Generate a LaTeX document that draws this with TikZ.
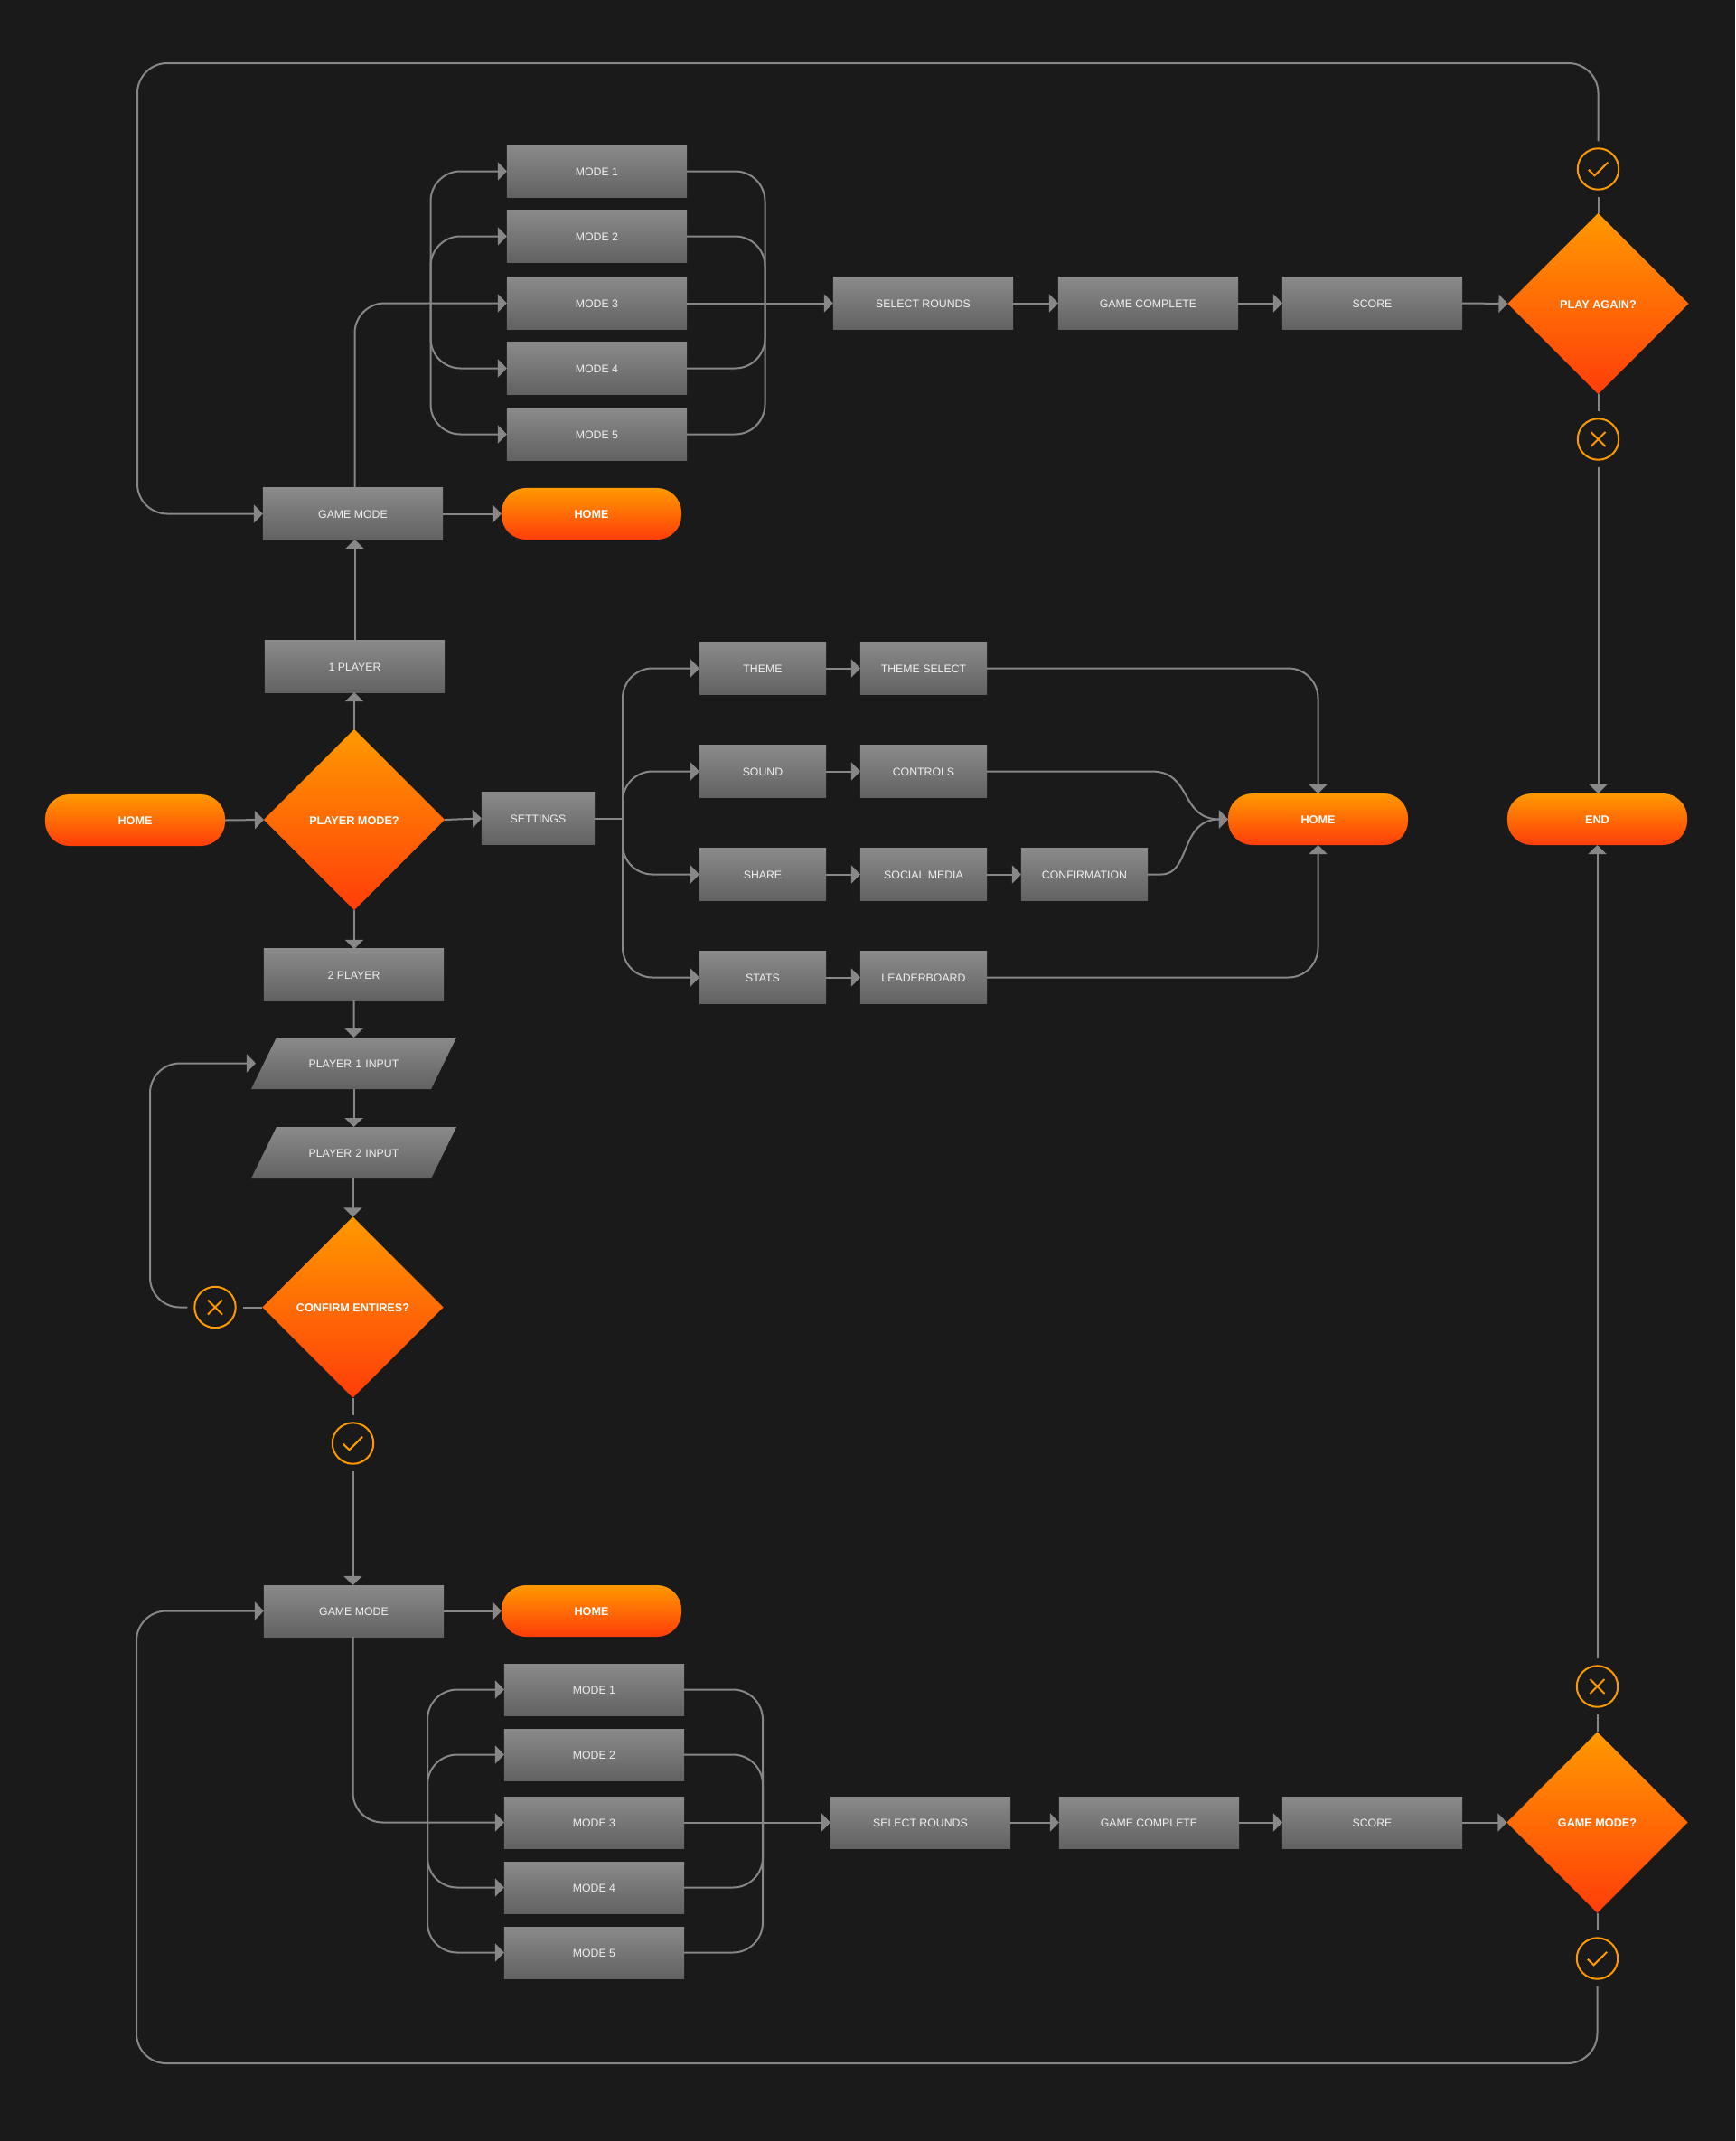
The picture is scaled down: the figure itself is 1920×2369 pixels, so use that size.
\documentclass[tikz,border=0pt]{standalone}
\usepackage{fontspec}
\setmainfont{Liberation Sans}
\usepackage{tikz}
\usetikzlibrary{arrows.meta,shapes.geometric}
\definecolor{bgdark}{HTML}{1A1A1A}
\definecolor{linegray}{HTML}{878787}
\definecolor{boxtop}{HTML}{8A8A8A}
\definecolor{boxbot}{HTML}{626262}
\definecolor{hottop}{HTML}{FF9900}
\definecolor{hotbot}{HTML}{FF3D0A}
\definecolor{boxtext}{HTML}{F0F0F0}

\begin{document}
\begin{tikzpicture}[
  x=0.01cm,y=-0.01cm,
  boxnode/.style={rectangle, top color=boxtop, bottom color=boxbot, text=boxtext, minimum width=1.99cm, minimum height=0.57cm, inner sep=0pt, outer sep=0pt, text height=3.1pt, text depth=0pt, font=\fontsize{3.5}{4}\selectfont},
  boxshort/.style={boxnode, minimum width=1.4cm},
  slant/.style={boxnode, trapezium, trapezium left angle=63.8, trapezium right angle=116.2, minimum width=0pt, minimum height=0pt, text width=1.71cm, align=center, text height=9.5pt, text depth=6.7pt},
  pill/.style={rectangle, rounded corners=0.27cm, top color=hottop, bottom color=hotbot, text=white, minimum width=1.99cm, minimum height=0.57cm, inner sep=0pt, outer sep=0pt, text height=3.1pt, text depth=0pt, font=\fontsize{3.6}{4}\selectfont\bfseries},
  decide/.style={diamond, aspect=1, top color=hottop, bottom color=hotbot, text=white, minimum width=2cm, minimum height=2cm, inner sep=0pt, outer sep=0pt, text height=3.1pt, text depth=0pt, font=\fontsize{3.6}{4}\selectfont\bfseries},
  ringnode/.style={circle, draw=hottop, line width=0.02cm, minimum size=0.454cm, inner sep=0pt, outer sep=0.08cm},
  yesmark/.style={ringnode, path picture={\draw[hottop, line width=0.02cm, shift={(path picture bounding box.center)}] (-10.7,0.7) -- (-4,7.3) -- (10.7,-7.3);}},
  nomark/.style={ringnode, path picture={\draw[hottop, line width=0.02cm, shift={(path picture bounding box.center)}] (-8,-8) -- (8,8) (-8,8) -- (8,-8);}},
  wire/.style={draw=linegray, line width=0.02cm, rounded corners=0.33cm},
  arr/.style={wire, -{Triangle[length=0.1cm, width=0.2cm]}, linegray}
]
\fill[bgdark] (0,0) rectangle (1920,2369);

\node[boxnode] (ma1) at (660.5,189.5) {MODE 1};
\node[boxnode] (ma2) at (660.5,261.5) {MODE 2};
\node[boxnode] (ma3) at (660.5,335.5) {MODE 3};
\node[boxnode] (ma4) at (660.5,407.5) {MODE 4};
\node[boxnode] (ma5) at (660.5,480.5) {MODE 5};
\node[boxnode] (selA) at (1021.5,335.5) {SELECT ROUNDS};
\node[boxnode] (gcA) at (1270.5,335.5) {GAME COMPLETE};
\node[boxnode] (scA) at (1518.5,335.5) {SCORE};
\node[decide] (again) at (1768.5,336) {PLAY AGAIN?};
\node[yesmark] (yesA) at (1768.5,187) {};
\node[nomark] (noA) at (1768.5,486) {};
\node[boxnode] (gmA) at (390.5,568.5) {GAME MODE};
\node[pill] (homeA) at (654.5,568.5) {HOME};

\node[boxnode] (one) at (392.5,737.5) {1 PLAYER};
\node[decide] (player) at (392,907) {PLAYER MODE?};
\node[pill] (homeL) at (149.5,907.5) {HOME};
\node[boxnode, minimum width=1.25cm] (settings) at (595.5,905.5) {SETTINGS};
\node[boxnode] (two) at (391.5,1078.5) {2 PLAYER};
\node[slant] (inA) at (391.5,1176.5) {PLAYER 1 INPUT};
\node[slant] (inB) at (391.5,1275.5) {PLAYER 2 INPUT};
\node[decide] (confirm) at (390.5,1446.5) {CONFIRM ENTIRES?};
\node[nomark] (noC) at (238,1446.5) {};
\node[yesmark] (yesC) at (390.5,1597) {};

\node[boxshort] (theme) at (844,739.5) {THEME};
\node[boxshort] (themes) at (1022,739.5) {THEME SELECT};
\node[boxshort] (sound) at (844,853.5) {SOUND};
\node[boxshort] (controls) at (1022,853.5) {CONTROLS};
\node[boxshort] (share) at (844,967.5) {SHARE};
\node[boxshort] (social) at (1022,967.5) {SOCIAL MEDIA};
\node[boxshort] (confirmn) at (1200,967.5) {CONFIRMATION};
\node[boxshort] (stats) at (844,1081.5) {STATS};
\node[boxshort] (leader) at (1022,1081.5) {LEADERBOARD};
\node[pill] (homeM) at (1458.5,906.5) {HOME};
\node[pill] (endn) at (1767.5,906.5) {END};

\node[boxnode] (gmB) at (391.5,1782.5) {GAME MODE};
\node[pill] (homeB) at (654.5,1782.5) {HOME};
\node[boxnode] (mb1) at (657.5,1869.5) {MODE 1};
\node[boxnode] (mb2) at (657.5,1941.5) {MODE 2};
\node[boxnode] (mb3) at (657.5,2016.5) {MODE 3};
\node[boxnode] (mb4) at (657.5,2088.5) {MODE 4};
\node[boxnode] (mb5) at (657.5,2160.5) {MODE 5};
\node[boxnode] (selB) at (1018.5,2016.5) {SELECT ROUNDS};
\node[boxnode] (gcB) at (1271.5,2016.5) {GAME COMPLETE};
\node[boxnode] (scB) at (1518.5,2016.5) {SCORE};
\node[decide] (gamem) at (1767.5,2016.5) {GAME MODE?};
\node[nomark] (noB) at (1767.5,1866) {};
\node[yesmark] (yesB) at (1767.5,2167) {};

\coordinate (cornerA) at (152,70);
\coordinate (cornerB) at (151,2283);
\coordinate (busLA) at (476.5,335.5);
\coordinate (busRA) at (846.5,335.5);
\coordinate (busLB) at (473,2016.5);
\coordinate (busRB) at (844,2016.5);
\coordinate (busS) at (689,905.5);
\coordinate (loopC) at (166,1176.5);
\coordinate (backC) at (283,1176.5);
\coordinate (curveA) at (1274,853.5);
\coordinate (curveB) at (1285,967.5);

\draw[wire] (again.north) -- (yesA.south);
\draw[arr] (yesA.north) |- (cornerA) |- (gmA.west);
\draw[arr] (gmA.east) -- (homeA.west);
\draw[arr] (gmA.north -| one.north) |- (ma3.west);
\draw[arr] (busLA) |- (ma1.west);
\draw[arr] (busLA) |- (ma2.west);
\draw[arr] (busLA) |- (ma4.west);
\draw[arr] (busLA) |- (ma5.west);
\draw[wire] (ma1.east) -| (busRA);
\draw[wire] (ma2.east) -| (busRA);
\draw[wire] (ma4.east) -| (busRA);
\draw[wire] (ma5.east) -| (busRA);
\draw[arr] (ma3.east) -- (selA.west);
\draw[arr] (selA.east) -- (gcA.west);
\draw[arr] (gcA.east) -- (scA.west);
\draw[arr] (scA.east) -- (again.west);
\draw[wire] (again.south) -- (noA.north);
\draw[arr] (noA.south) -- (noA.south |- endn.north);

\draw[arr] (one.north) -- (one.north |- gmA.south);
\draw[arr] (player.north) -- (player.north |- one.south);
\draw[arr] (homeL.east) -- (player.west);
\draw[arr] (player.east) -- (settings.west);
\draw[arr] (player.south) -- (player.south |- two.north);
\draw[arr] (two.south) -- (inA.north);
\draw[arr] (inA.south) -- (inB.north);
\draw[arr] (inB.south -| confirm.north) -- (confirm.north);
\draw[wire] (confirm.west) -- (noC.east);
\draw[arr] (noC.west) -| (loopC) -- (backC);
\draw[wire] (confirm.south) -- (yesC.north);
\draw[arr] (yesC.south) -- (yesC.south |- gmB.north);

\draw[wire] (settings.east) -- (busS);
\draw[arr] (busS) |- (theme.west);
\draw[arr] (busS) |- (sound.west);
\draw[arr] (busS) |- (share.west);
\draw[arr] (busS) |- (stats.west);
\draw[arr] (theme.east) -- (themes.west);
\draw[arr] (sound.east) -- (controls.west);
\draw[arr] (share.east) -- (social.west);
\draw[arr] (social.east) -- (confirmn.west);
\draw[arr] (stats.east) -- (leader.west);
\draw[arr] (themes.east) -| (homeM.north);
\draw[arr] (leader.east) -| (homeM.south);
\draw[arr, sharp corners] (controls.east) -- (curveA) .. controls (1320,853.5) and (1305,906.5) .. (homeM.west);
\draw[arr, sharp corners] (confirmn.east) -- (curveB) .. controls (1318,967.5) and (1305,906.5) .. (homeM.west);

\draw[arr] (gmB.east) -- (homeB.west);
\draw[arr] (gmB.south -| yesC.south) |- (mb3.west);
\draw[arr] (busLB) |- (mb1.west);
\draw[arr] (busLB) |- (mb2.west);
\draw[arr] (busLB) |- (mb4.west);
\draw[arr] (busLB) |- (mb5.west);
\draw[wire] (mb1.east) -| (busRB);
\draw[wire] (mb2.east) -| (busRB);
\draw[wire] (mb4.east) -| (busRB);
\draw[wire] (mb5.east) -| (busRB);
\draw[arr] (mb3.east) -- (selB.west);
\draw[arr] (selB.east) -- (gcB.west);
\draw[arr] (gcB.east) -- (scB.west);
\draw[arr] (scB.east) -- (gamem.west);
\draw[wire] (gamem.north) -- (noB.south);
\draw[arr] (noB.north) -- (noB.north |- endn.south);
\draw[wire] (gamem.south) -- (yesB.north);
\draw[arr] (yesB.south) |- (cornerB) |- (gmB.west);
\end{tikzpicture}
\end{document}
